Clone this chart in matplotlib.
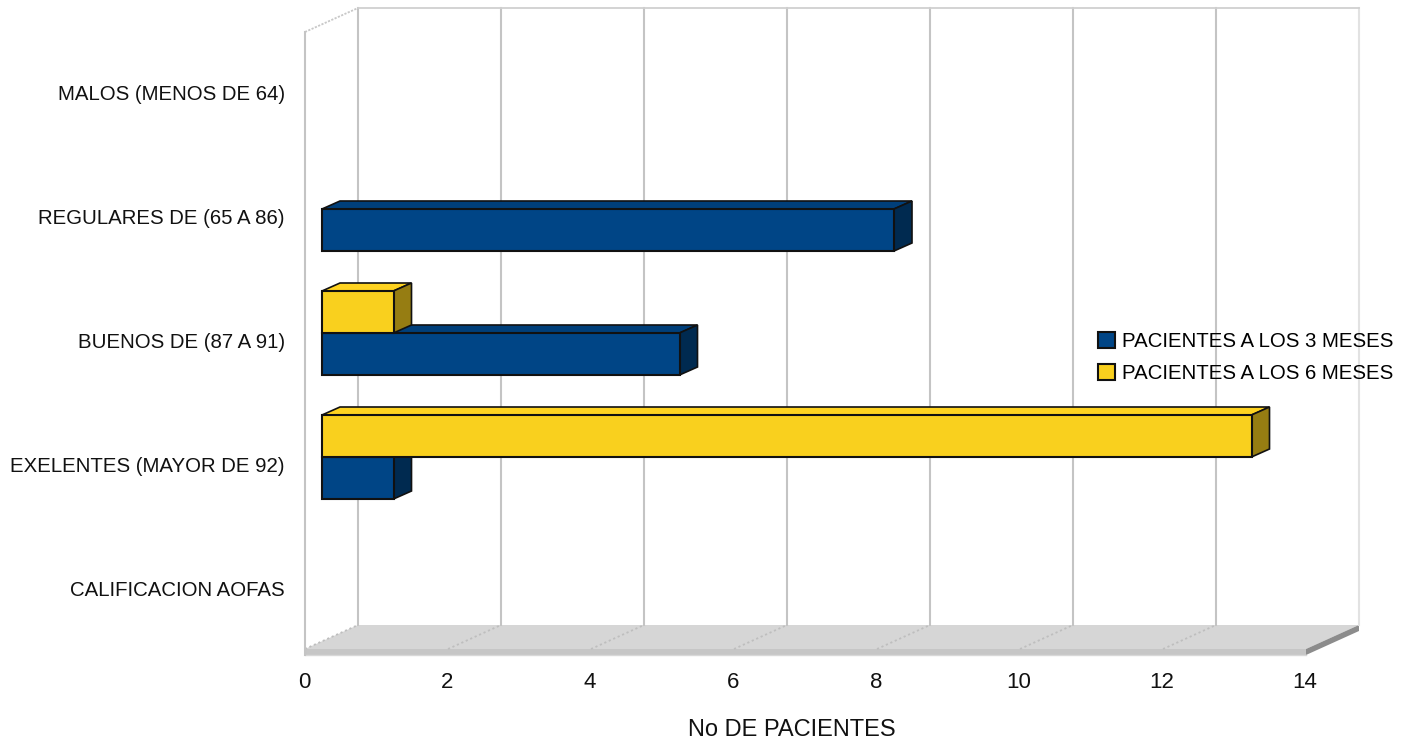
import matplotlib
matplotlib.use('Agg')
import matplotlib.pyplot as plt
from matplotlib.patches import Polygon
import numpy as np

# Datos de la tabla
categorias = ['MALOS (MENOS DE 64)', 'REGULARES DE (65 A 86)', 'BUENOS DE (87 A 91)',
              'EXELENTES (MAYOR DE 92)', 'CALIFICACION AOFAS']
pacientes_3 = [0, 8, 5, 1, 0]
pacientes_6 = [0, 0, 1, 13, 0]
ticks_x = [0, 2, 4, 6, 8, 10, 12, 14]

AZUL = ('#004586', '#003F7A', '#002A50')
AMARILLO = ('#F9D01E', '#FFD320', '#967D12')

W, H = 1411, 742
plt.rcParams['font.family'] = ['Liberation Sans', 'DejaVu Sans']

fig = plt.figure(figsize=(W / 100, H / 100), dpi=100)
# plano frontal del grafico, en pixeles: x 305-1306, y 32-652
ax = fig.add_axes([305 / W, 1 - 652 / H, (1306 - 305) / W, (652 - 32) / H])
ax.set_xlim(0, 14)
ax.set_ylim(4.5, -0.5)
ax.set_axis_off()

px = 14 / (1306 - 305)
py = 5 / (652 - 32)
fondo_x, fondo_y = 53 * px, 24 * py   # profundidad del fondo
barra_x, barra_y = 17 * px, 8 * py    # desplazamiento de cada barra
lado_x = 18 * px                      # profundidad de la cara lateral
alto = 42 * py
y_base = 4.5
y_techo = -0.5


def poligono(puntos, color, ec='none', lw=0, z=1):
    ax.add_patch(Polygon(puntos, closed=True, fc=color, ec=ec, lw=lw, zorder=z,
                         clip_on=False, joinstyle='miter'))


# piso
f1 = y_base - 3 * py
f2 = y_base + 3 * py
poligono([(0, f1), (14, f1), (14 + fondo_x, f1 - fondo_y), (fondo_x, f1 - fondo_y)], '#D6D6D6')
poligono([(0, f1), (14, f1), (14, f2), (0, f2)], '#C6C6C6')
poligono([(14, f1), (14 + fondo_x, f1 - fondo_y), (14 + fondo_x, f2 - fondo_y), (14, f2)], '#8C8C8C')
ax.plot([0, 14], [f2, f2], color='#D8D8D8', lw=1, clip_on=False, zorder=1)

# rejilla del fondo y diagonales del piso
for t in ticks_x:
    c = '#E2E2E2' if t == 14 else '#C4C4C4'
    ax.plot([t + fondo_x, t + fondo_x], [y_techo - fondo_y, f1 - fondo_y], color=c, lw=1.5,
            clip_on=False, zorder=1.5)
    if t < 14:
        ax.plot([t, t + fondo_x], [f1, f1 - fondo_y], color='#BEBEBE', lw=1.3, ls=(0, (1.2, 1.5)),
                clip_on=False, zorder=1.5)
ax.plot([fondo_x, 14 + fondo_x], [y_techo - fondo_y] * 2, color='#D0D0D0', lw=1.3, clip_on=False, zorder=1.5)
ax.plot([0, fondo_x], [y_techo, y_techo - fondo_y], color='#C8C8C8', lw=1.3, ls=(0, (1.2, 0.8)),
        clip_on=False, zorder=1.5)
ax.plot([0, 0], [y_techo, f2], color='#C4C4C4', lw=1.5, clip_on=False, zorder=1.5)


def barras(valores, colores, posicion, etiqueta, z):
    valores = np.array(valores)
    y = np.arange(len(valores))[valores > 0]
    v = valores[valores > 0]
    # la barra se apoya en el centro desplazado por la profundidad
    y0 = y - 9 * py + (alto / 2 if posicion == 'abajo' else -alto / 2)
    ax.barh(y0, v, height=alto, left=barra_x, color=colores[0], edgecolor='#111111', lw=1.5,
            label=etiqueta, zorder=z + 0.2, clip_on=False)
    for yi, vi in zip(y0, v):
        xa, xb = barra_x, barra_x + vi
        ya, yb = yi - alto / 2, yi + alto / 2
        poligono([(xa, ya), (xb, ya), (xb + lado_x, ya - barra_y), (xa + lado_x, ya - barra_y)],
                 colores[1], '#111111', 1.2, z)
        poligono([(xb, ya), (xb + lado_x, ya - barra_y), (xb + lado_x, yb - barra_y), (xb, yb)],
                 colores[2], '#111111', 1.2, z)


barras(pacientes_3, AZUL, 'abajo', 'PACIENTES A LOS 3 MESES', 3)
barras(pacientes_6, AMARILLO, 'arriba', 'PACIENTES A LOS 6 MESES', 4)

# textos de ejes
for i, c in enumerate(categorias):
    ax.text(-20 * px, i, c, ha='right', va='center', fontsize=14.7, color='#111111', clip_on=False)
for t in ticks_x:
    ax.text(t - 1 * px, y_base + 31 * py, str(t), ha='center', va='center', fontsize=16, color='#111111')
ax.text(487 * px, y_base + 78 * py, 'No DE PACIENTES', ha='center', va='center', fontsize=17,
        color='#111111')

ley = ax.legend(loc='center left', bbox_to_anchor=(1090 / W, 1 - 357.5 / H), bbox_transform=fig.transFigure,
                frameon=False, fontsize=14.7, handlelength=0.82, handleheight=0.82,
                handletextpad=0.33, labelspacing=0.62, borderpad=0.4, borderaxespad=0)
ley.set_zorder(10)

fig.savefig('out.png', dpi=100, facecolor='white')
